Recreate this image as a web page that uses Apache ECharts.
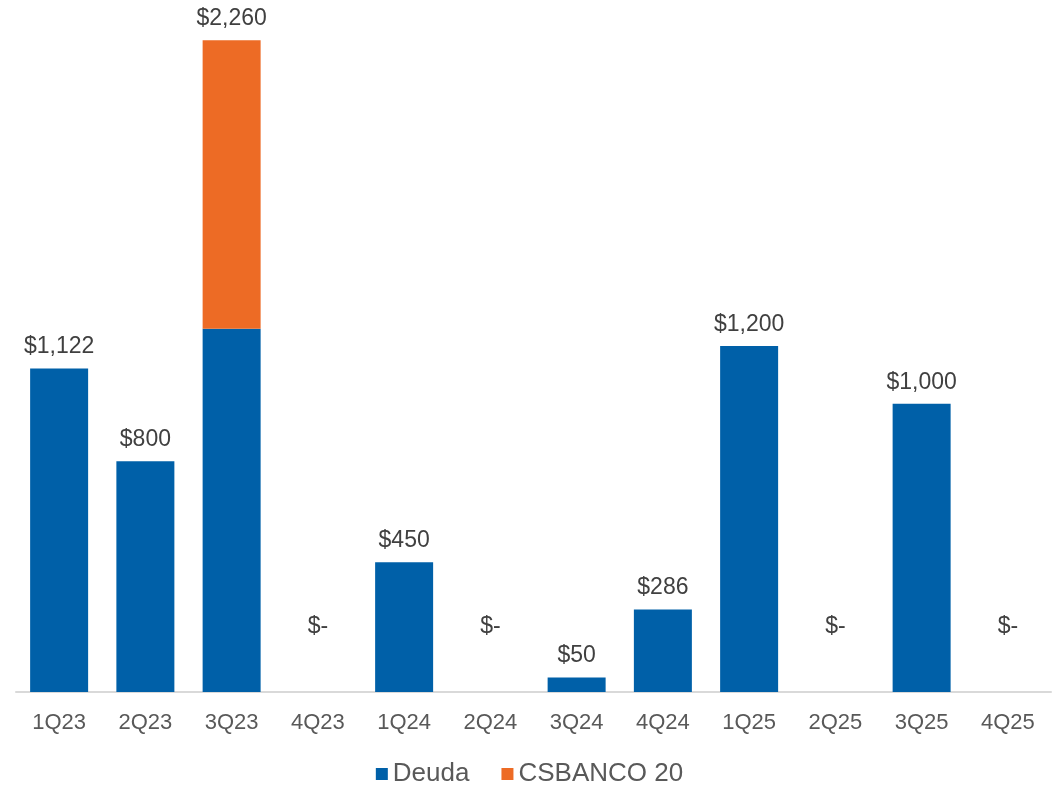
<!DOCTYPE html>
<html><head><meta charset="utf-8">
<script src="https://cdn.jsdelivr.net/npm/echarts@6/dist/echarts.min.js"></script>
<style>html,body{margin:0;padding:0;background:#fff}#c{width:1059px;height:786px}</style>
</head><body><div id="c"></div>
<script>
const categories = ['1Q23','2Q23','3Q23','4Q23','1Q24','2Q24','3Q24','4Q24','1Q25','2Q25','3Q25','4Q25'];
const deuda = [1122, 800, 1260, 0, 450, 0, 50, 286, 1200, 0, 1000, 0];
const csbanco = [0, 0, 1000, 0, 0, 0, 0, 0, 0, 0, 0, 0];
const totals = categories.map((c, i) => deuda[i] + csbanco[i]);

function fmt(v) {
  if (v === 0) return '$-';
  return '$' + v.toLocaleString('en-US');
}

const chart = echarts.init(document.getElementById('c'));
const font = 'Liberation Sans, Arial, sans-serif';
chart.setOption({
  animation: false,
  backgroundColor: '#fff',
  grid: { left: 16, right: 8, top: 0, bottom: 94 },
  legend: {
    top: 756, left: 'center',
    itemWidth: 12, itemHeight: 12, itemGap: 32,
    icon: 'rect',
    textStyle: { fontFamily: font, fontSize: 26, color: '#595959' },
    data: ['Deuda', 'CSBANCO 20']
  },
  xAxis: {
    type: 'category', data: categories,
    axisLine: { lineStyle: { color: '#d9d9d9', width: 2 } },
    axisTick: { show: false },
    axisLabel: { fontFamily: font, fontSize: 22, color: '#595959', margin: 20 }
  },
  yAxis: {
    type: 'value', min: 0, max: 2400,
    show: false, splitLine: { show: false }
  },
  series: [
    {
      name: 'Deuda', type: 'bar', stack: 'a', data: deuda,
      barWidth: 58,
      itemStyle: { color: '#0060A8' }
    },
    {
      name: 'CSBANCO 20', type: 'bar', stack: 'a',
      data: csbanco.map((v, i) => ({
        value: v,
        label: totals[i] === 0 ? { offset: [0, -44] } : {}
      })),
      barWidth: 58,
      itemStyle: { color: '#ED6B25' },
      label: {
        show: true, position: 'top', distance: 10,
        fontFamily: font, fontSize: 23, color: '#404040',
        formatter: p => fmt(totals[p.dataIndex])
      }
    }
  ]
});
</script></body></html>
